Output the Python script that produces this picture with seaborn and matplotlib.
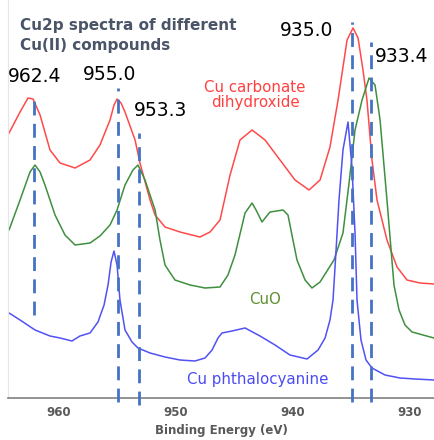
import numpy as np
import pandas as pd
import matplotlib
matplotlib.use("Agg")
import matplotlib.pyplot as plt
import seaborn as sns

# spectra: binding energy (eV) and intensity (arb. units)
red_ev = [964.36, 963.33, 962.65, 962.22, 961.62, 960.77, 959.91, 958.63, 957.35, 956.50,
          955.64, 955.30, 955.04, 954.70, 954.36, 953.50, 953.08, 952.22, 951.79, 950.94,
          949.66, 947.95, 947.09, 946.24, 945.38, 944.53, 943.50, 942.39, 941.11, 939.83,
          938.63, 937.69, 936.84, 936.15, 935.38, 934.87, 934.44, 934.02, 933.68, 933.25,
          932.82, 931.97, 931.11, 930.26, 929.15, 927.95]
red_int = [263, 286, 300, 299, 283, 248, 235, 230, 238, 253,
           278, 293, 299, 295, 286, 258, 235, 198, 183, 171,
           166, 161, 166, 178, 223, 258, 268, 258, 238, 218,
           208, 218, 251, 298, 358, 370, 360, 328, 298, 238,
           198, 158, 131, 118, 115, 114]

green_ev = [964.27, 963.33, 962.48, 962.05, 961.62, 961.20, 960.34, 959.49, 958.63, 957.35,
            956.50, 955.64, 955.04, 954.36, 953.68, 953.25, 952.65, 951.79, 951.37, 950.94,
            950.09, 948.80, 947.52, 946.24, 945.56, 944.96, 944.10, 943.50, 943.16, 942.65,
            941.97, 940.85, 940.43, 940.09, 939.66, 938.97, 938.38, 937.69, 936.50, 935.73,
            935.21, 934.70, 934.10, 933.50, 932.99, 932.56, 931.97, 931.37, 930.94, 930.43,
            929.83, 927.95]
green_int = [168, 198, 226, 233, 226, 213, 183, 163, 153, 155,
             162, 173, 188, 213, 228, 233, 218, 188, 158, 133,
             118, 113, 110, 111, 123, 143, 185, 195, 188, 176,
             186, 188, 183, 163, 138, 118, 110, 116, 138, 165,
             215, 268, 298, 320, 313, 278, 198, 113, 88, 73,
             66, 60]

blue_ev = [964.27, 963.33, 962.05, 960.77, 959.91, 958.89, 958.21, 957.35, 956.67, 956.15,
           955.81, 955.55, 955.30, 955.04, 954.79, 954.36, 953.76, 953.25, 952.22, 950.94,
           949.66, 948.38, 947.52, 946.92, 946.41, 946.07, 945.21, 944.10, 942.82, 941.54,
           940.26, 938.80, 937.86, 937.26, 936.84, 936.58, 936.32, 936.07, 935.73, 935.30,
           934.96, 934.70, 934.53, 934.19, 933.76, 933.25, 932.14, 930.85, 929.57, 927.95]
blue_int = [85, 78, 68, 62, 60, 57, 62, 65, 76, 93,
            113, 136, 147, 133, 98, 68, 56, 50, 45, 41,
            38, 37, 40, 48, 60, 65, 67, 70, 62, 53,
            43, 39, 48, 60, 78, 98, 148, 198, 248, 276,
            231, 165, 98, 58, 38, 30, 23, 20, 19, 18]

# dashed guide lines: position (eV) and vertical extent (intensity)
guide_ev = [962.1, 955.0, 953.2, 935.0, 933.35]
guide_top = [298, 310, 265, 376, 356]
guide_bottom = [83, -4, -7, -4, -4]

peak_labels = ["962.4", "955.0", "953.3", "935.0", "933.4"]
label_ev = [964.36, 957.95, 953.6, 941.1, 933.0]
label_int = [321, 323, 288, 368, 341]

series_names = ["Cu carbonate\ndihydroxide", "CuO", "Cu phthalocyanine"]
series_colors = ["#ff4a4a", "#3f8f3f", "#5151f5"]
text_colors = ["#ff4040", "#5e8f2e", "#4b4bf5"]

df = pd.concat([
    pd.DataFrame({"ev": red_ev, "intensity": red_int, "sample": series_names[0]}),
    pd.DataFrame({"ev": green_ev, "intensity": green_int, "sample": series_names[1]}),
    pd.DataFrame({"ev": blue_ev, "intensity": blue_int, "sample": series_names[2]}),
])

sns.set_style("white")
plt.rcParams["font.family"] = ["DejaVu Sans"]

fig = plt.figure(figsize=(4.34, 4.40), dpi=100)
ax = fig.add_axes([8 / 434, 42 / 440, 426 / 434, 398 / 440])

sns.lineplot(data=df, x="ev", y="intensity", hue="sample", palette=series_colors,
             hue_order=series_names, estimator=None, sort=False, lw=1.1,
             legend=False, ax=ax)

for x, top, bot in zip(guide_ev, guide_top, guide_bottom):
    ax.plot([x, x], [bot, top], color="#4472c4", lw=2, linestyle=(0, (5, 3)),
            clip_on=False, zorder=5)

for txt, x, y in zip(peak_labels, label_ev, label_int):
    ax.text(x, y, txt, ha="left", va="center", fontsize=13.5, color="black")

ax.text(963.33, 380, "Cu2p spectra of different\nCu(II) compounds", ha="left", va="top",
        fontsize=11, color="#4a5568", fontweight="bold", linespacing=1.4)

ax.text(943.25, 303, series_names[0], ha="center", va="center", fontsize=10.8,
        color=text_colors[0], linespacing=1.0)
ax.text(942.4, 98, series_names[1], ha="center", va="center", fontsize=10.8,
        color=text_colors[1])
ax.text(943.0, 19, series_names[2], ha="center", va="center", fontsize=10.8,
        color=text_colors[2])

ax.set_xlim(964.36, 927.95)
ax.set_ylim(0, 398)
ax.set_xticks([960, 950, 940, 930])
ax.set_yticks([])
ax.set_xlabel("Binding Energy (eV)", fontsize=8.5, color="#595959", labelpad=3)
ax.set_ylabel("")
ax.tick_params(axis="x", direction="inout", length=6, width=1, colors="#808080",
               labelsize=8.5, labelcolor="#595959", pad=3)
for lab in ax.get_xticklabels():
    lab.set_fontweight("bold")
ax.xaxis.label.set_fontweight("semibold")

for side in ["top", "right"]:
    ax.spines[side].set_visible(False)
ax.spines["bottom"].set_color("#808080")
ax.spines["bottom"].set_linewidth(1.2)
ax.spines["left"].set_color("#e6e6e6")
ax.spines["left"].set_linewidth(0.8)

fig.savefig("out.png", dpi=100)
